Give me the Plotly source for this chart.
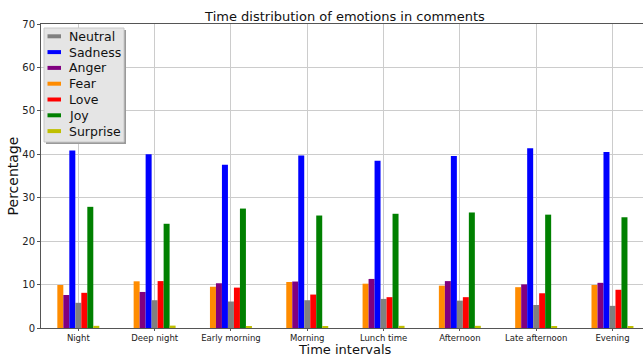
import plotly.graph_objects as go

categories = ["Night", "Deep night", "Early morning", "Morning", "Lunch time",
              "Afternoon", "Late afternoon", "Evening"]

fear = [9.9, 10.75, 9.5, 10.6, 10.2, 9.75, 9.4, 9.9]
anger = [7.6, 8.3, 10.3, 10.7, 11.3, 10.8, 10.05, 10.4]
sadness = [40.9, 40.0, 37.6, 39.7, 38.5, 39.6, 41.4, 40.5]
neutral = [5.8, 6.4, 6.1, 6.4, 6.7, 6.3, 5.3, 5.1]
love = [8.1, 10.8, 9.3, 7.7, 7.1, 7.1, 8.0, 8.8]
joy = [27.9, 24.0, 27.5, 25.9, 26.3, 26.6, 26.1, 25.5]
surprise = [0.5, 0.55, 0.45, 0.25, 0.5, 0.5, 0.4, 0.45]

colors = {"Fear": "#ff8c00", "Anger": "#800080", "Sadness": "#0000ff",
          "Neutral": "#808080", "Love": "#ff0000", "Joy": "#008000",
          "Surprise": "#bfbf00"}

# bar order inside each group (left to right)
bar_order = [("Fear", fear), ("Anger", anger), ("Sadness", sadness),
             ("Neutral", neutral), ("Love", love), ("Joy", joy),
             ("Surprise", surprise)]
# legend order
legend_order = ["Neutral", "Sadness", "Anger", "Fear", "Love", "Joy", "Surprise"]

fig = go.Figure()
for name, vals in bar_order:
    fig.add_trace(go.Bar(x=categories, y=vals, name=name,
                         marker_color=colors[name], marker_line_width=0,
                         showlegend=False))

W, H = 643, 356
L, R, T, B = 41, 0, 24, 28
pw = W - L - R
ph = H - T - B


def px(x):
    return (x - L) / pw


def py(y):
    return 1 - (y - T) / ph


font = "DejaVu Sans"

# legend drawn as shapes + text
shapes = []
annotations = []
bx0, bx1, by0, by1 = 44, 124, 28, 142
shapes.append(dict(type="rect", xref="paper", yref="paper",
                   x0=px(bx0 + 2), x1=px(bx1 + 2), y0=py(by0 + 2), y1=py(by1 + 2),
                   fillcolor="#9a9a9a", line=dict(width=0), layer="above"))
shapes.append(dict(type="rect", xref="paper", yref="paper",
                   x0=px(bx0), x1=px(bx1), y0=py(by0), y1=py(by1),
                   fillcolor="#e5e5e5", line=dict(color="#c8c8c8", width=1),
                   layer="above"))
row0, step = 36.3, 15.8
for i, name in enumerate(legend_order):
    yc = row0 + i * step
    shapes.append(dict(type="rect", xref="paper", yref="paper",
                       x0=px(47.5), x1=px(61), y0=py(yc + 2), y1=py(yc - 2),
                       fillcolor=colors[name], line=dict(width=0), layer="above"))
    annotations.append(dict(text=name, xref="paper", yref="paper",
                            x=px(67), y=py(yc), xanchor="left", yanchor="middle",
                            showarrow=False,
                            font=dict(size=12.5, color="#111", family=font)))

# x-axis title as centered text below tick labels
annotations.append(dict(text="Time intervals", xref="paper", yref="paper",
                        x=0.505, y=py(349.5), xanchor="center", yanchor="middle",
                        showarrow=False,
                        font=dict(size=13, color="#111", family=font)))

fig.update_layout(
    width=W, height=H,
    margin=dict(l=L, r=R, t=T, b=B),
    barmode="group", bargap=0.45, bargroupgap=0,
    plot_bgcolor="white", paper_bgcolor="white",
    font=dict(family=font, color="#222", size=10),
    title=dict(text="Time distribution of emotions in comments",
               font=dict(size=13, color="#111"),
               xref="paper", x=0.505, xanchor="center",
               yref="container", y=1 - 16 / H, yanchor="middle"),
    showlegend=False,
    shapes=shapes,
    annotations=annotations,
)
fig.update_xaxes(
    type="category", range=[-0.489, 7.40],
    showgrid=True, gridcolor="#cccccc", gridwidth=1,
    showline=True, linecolor="#555", linewidth=1, mirror=True,
    ticks="outside", ticklen=2, tickcolor="#555",
    tickfont=dict(size=8.5, color="#222"),
    automargin=False,
)
fig.update_yaxes(
    range=[0, 70], dtick=10,
    showgrid=True, gridcolor="#cccccc", gridwidth=1,
    showline=True, linecolor="#555", linewidth=1, mirror=False,
    ticks="outside", ticklen=3, tickcolor="#555",
    tickfont=dict(size=10, color="#222"),
    zeroline=False,
    title=dict(text="Percentage", font=dict(size=14, color="#111"), standoff=0),
)

fig.write_html("out.html",
               config={"displayModeBar": False},
               post_script="document.body.style.margin='0';document.body.style.padding='0';")
